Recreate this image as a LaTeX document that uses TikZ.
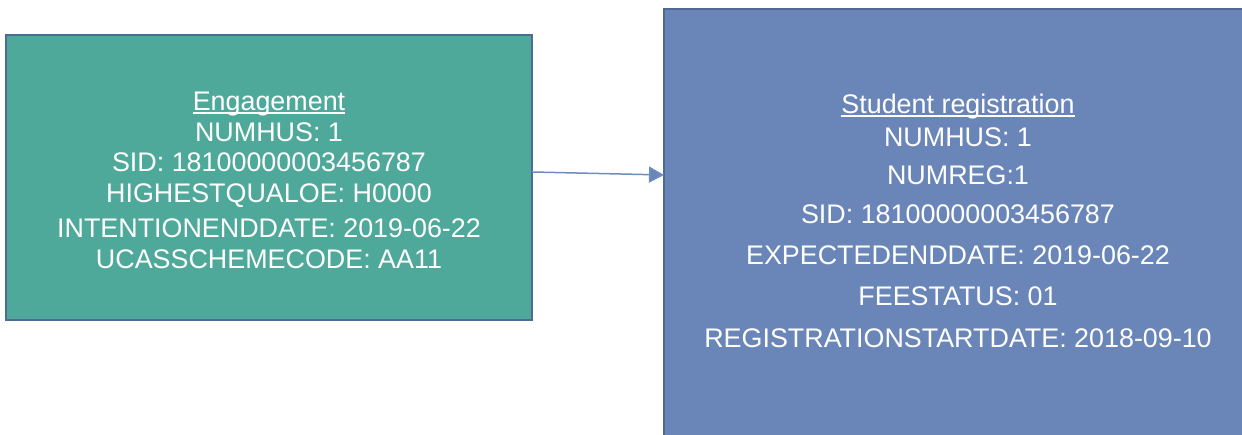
\documentclass[tikz,border=0pt]{standalone}
\usepackage{fontspec}
\setmainfont{Liberation Sans}
\usetikzlibrary{
    arrows.meta,
    positioning
}
\definecolor{engfill}{HTML}{4EA99A}
\definecolor{regfill}{HTML}{6A86B8}
\definecolor{boxedge}{HTML}{4F6A94}
\definecolor{linkline}{HTML}{6F8CC2}
\tikzset{
    every picture/.style = {
        > = {Triangle[length = 0.3cm, width = 0.32cm]}
    },
    entity/.style = {
        draw = boxedge,
        line width = 0.05cm,
        inner sep = 0pt,
        outer sep = 0pt,
        anchor = north west
    },
    field/.style = {
        text = white,
        anchor = base,
        inner sep = 0pt,
        outer sep = 0pt,
        font = \fontsize{15.3}{18}\selectfont
    },
    headline/.style = {
        draw = white,
        line width = 0.04cm
    },
    link/.style = {
        draw = linkline,
        line width = 0.03cm
    }
}

\begin{document}
\begin{tikzpicture}[x = 0.02cm, y = -0.02cm]
    \useasboundingbox (0,0) rectangle (1242,434);
    \clip (0,0) rectangle (1242,434);

    \node[entity, fill = engfill, minimum width = 10.52cm, minimum height = 5.7cm] (eng) at (6,35) {};
    \node[entity, fill = regfill, minimum width = 11.78cm, minimum height = 9cm] (reg) at (664,9) {};

    % engagement
    \node[field] (engtitle) at (269,110) {Engagement};
    \draw[headline] ([yshift = -0.06cm]engtitle.base west) -- ([yshift = -0.06cm]engtitle.base east);
    \foreach \y/\txt [count = \i] in {
        141/{NUMHUS: 1},
        171/{SID: 18100000003456787},
        202/{HIGHESTQUALOE: H0000},
        237/{INTENTIONENDDATE: 2019-06-22},
        268/{UCASSCHEMECODE: AA11}%
    }
        \node[field] (eng-\i) at (269,\y) {\txt};

    % student registration
    \node[field] (regtitle) at (958,113) {Student registration};
    \draw[headline] ([yshift = -0.06cm]regtitle.base west) -- ([yshift = -0.06cm]regtitle.base east);
    \foreach \y/\txt [count = \i] in {
        146/{NUMHUS: 1},
        184/{NUMREG:1},
        223/{SID: 18100000003456787},
        264/{EXPECTEDENDDATE: 2019-06-22},
        305/{FEESTATUS: 01},
        347/{REGISTRATIONSTARTDATE: 2018-09-10}%
    }
        \node[field] (reg-\i) at (958,\y) {\txt};

    \draw[link, -{Triangle[length = 0.3cm, width = 0.32cm, fill = regfill]}]
        ([yshift = 0.11cm]eng.east) -- ([yshift = -3.32cm]reg.north west);
\end{tikzpicture}
\end{document}
